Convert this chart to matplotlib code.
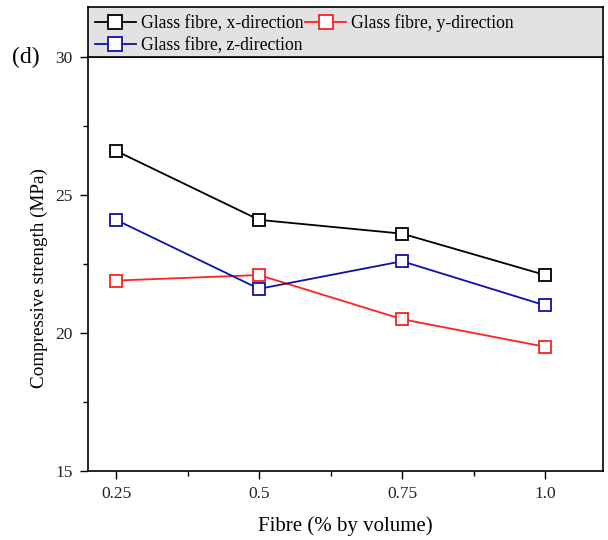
import numpy as np
import matplotlib.pyplot as plt
from matplotlib.ticker import MultipleLocator

plt.rcParams['font.family'] = ['Liberation Serif', 'DejaVu Serif']

# data
fibre = [0.25, 0.5, 0.75, 1.0]
tick_labels = ['0.25', '0.5', '0.75', '1.0']
x_dir = [26.6, 24.1, 23.6, 22.1]
y_dir = [21.9, 22.1, 20.5, 19.5]
z_dir = [24.1, 21.6, 22.6, 21.0]

fig = plt.figure(figsize=(6.08, 5.40), dpi=100)
ax = fig.add_axes([0.1447, 0.1278, 0.8470, 0.7666])
# grey legend panel on top of the plot
lax = fig.add_axes([0.1447, 0.8944, 0.8470, 0.0926])
lax.set_facecolor('#e2e2e2')
lax.set_xticks([])
lax.set_yticks([])
for s in lax.spines.values():
    s.set_linewidth(1.2)

mk = dict(marker='s', markersize=9, markerfacecolor='white', markeredgewidth=1.3, linewidth=1.3)
lx, = ax.plot(fibre, x_dir, color='black', label='Glass fibre, x-direction', **mk)
ly, = ax.plot(fibre, y_dir, color='#ff2020', label='Glass fibre, y-direction', **mk)
lz, = ax.plot(fibre, z_dir, color='#1010a8', label='Glass fibre, z-direction', **mk)

ax.set_xlim(0.201, 1.101)
ax.set_ylim(15, 30)
ax.set_xticks(fibre)
ax.set_xticklabels(tick_labels)
ax.set_yticks([15, 20, 25, 30])
ax.xaxis.set_minor_locator(MultipleLocator(0.125))
ax.yaxis.set_minor_locator(MultipleLocator(2.5))
ax.tick_params(which='both', direction='out', labelsize=12.5, width=1.0, labelcolor='#222222')
ax.tick_params(which='major', length=6, pad=5)
ax.tick_params(which='minor', length=3.5)
for s in ax.spines.values():
    s.set_linewidth(1.2)

ax.set_xlabel('Fibre (% by volume)', fontsize=15, labelpad=10)
ax.set_ylabel('Compressive strength (MPa)', fontsize=13.8)
ax.yaxis.set_label_coords(-0.078, 0.465)

leg = lax.legend([lx, lz, ly], [lx.get_label(), lz.get_label(), ly.get_label()],
                 loc='upper left', ncol=2, fontsize=12.7, frameon=False,
                 borderaxespad=0.0, handlelength=2.3, handletextpad=0.3,
                 columnspacing=0.1, labelspacing=0.3, borderpad=0.4,
                 markerscale=1.05)

fig.text(0.02, 0.894, '(d)', fontsize=17, va='center', ha='left')

fig.savefig('out.png', dpi=100)
